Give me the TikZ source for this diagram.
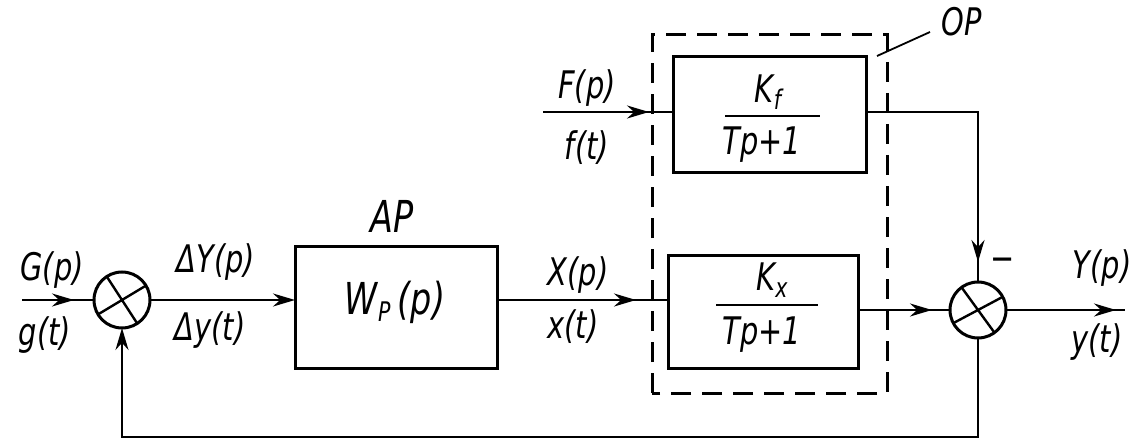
\documentclass[tikz,border=0pt]{standalone}
\usepackage{fontspec}
\setmainfont{DejaVu Sans}
\newfontfamily\hand[FakeStretch=0.76]{DejaVu Sans}
\usetikzlibrary{arrows.meta,calc}
\newcommand{\lowsub}[1]{\raisebox{-7pt}{\fontsize{27}{27}\selectfont #1}}
\begin{document}
\begin{tikzpicture}[x=1pt,y=-1pt,
  blk/.style={draw,line width=3pt,inner sep=0pt,outer sep=0pt},
  sumnode/.style={circle,draw,line width=3pt,minimum size=56pt,inner sep=0pt,outer sep=0pt},
  sig/.style={line width=2.3pt},
  arr/.style={sig,-{Stealth[length=22pt,width=13pt]}},
  lbl/.style={font=\hand\fontsize{38}{40}\selectfont\itshape,inner sep=0pt},
  big/.style={font=\hand\fontsize{44}{46}\selectfont\itshape,inner sep=0pt},
  frac/.style={line width=2.6pt},
  dashbox/.style={line width=3pt,dash pattern=on 20pt off 11pt}]
\useasboundingbox (0,0) rectangle (1141,441);
% blocks
\node[blk,minimum width=202pt,minimum height=122pt] (ap) at (396,307) {};
\node[blk,minimum width=190pt,minimum height=113pt] (kx) at (763,311.5) {};
\node[blk,minimum width=193pt,minimum height=116pt] (kf) at (770,115) {};
\node[sumnode] (s1) at (122,300) {};
\node[sumnode] (s2) at (978,310) {};
\draw[line width=2.4pt] (s1.123) -- (s1.303) (s1.211) -- (s1.31);
\draw[line width=2.4pt] (s2.126) -- (s2.306) (s2.208) -- (s2.28);
% dashed OP frame
\draw[dashbox] (652,393) -- (652,35) -- (887,35) -- (887,393) -- cycle;
% coordinates
\coordinate (gin) at (22,300);
\coordinate (ga) at (74,300);
\coordinate (xa) at (636,300);
\coordinate (fin) at (543,112);
\coordinate (fa) at (649,112);
\coordinate (kxa) at (932,310);
\coordinate (corner) at (978,112);
\coordinate (s2a) at (978,262);
\coordinate (yend) at (1125,310);
\coordinate (ya) at (1116,310);
\coordinate (fb2) at (978,437);
\coordinate (fb1) at (122,437);
\coordinate (opa) at (877,56);
\coordinate (opb) at (930,32);
% connectors
\draw[sig] (gin) -- (s1.west);
\draw[arr] (gin) -- (ga);
\draw[arr] (s1.east) -- (ap.west |- s1.east);
\draw[sig] (ap.east |- xa) -- (kx.west |- xa);
\draw[arr] (ap.east |- xa) -- (xa);
\draw[sig] (fin) -- (kf.west |- fin);
\draw[arr] (fin) -- (fa);
\draw[sig] (kf.east |- corner) -- (corner) -- (s2.north);
\draw[arr] (corner) -- (s2a);
\draw[sig] (kx.east |- s2.west) -- (s2.west);
\draw[arr] (kx.east |- s2.west) -- (kxa);
\draw[sig] (s2.east) -- (yend);
\draw[arr] (s2.east) -- (ya);
\draw[arr] (s2.south) -- (fb2) -- (fb1) -- (s1.south);
\draw[line width=1.8pt] (opa) -- (opb);
% labels
\node[lbl] (lG) at (52,270) {G(p)};
\node[lbl] (lg) at (45,335) {g(t)};
\node[lbl] (lDY) at (216,262) {ΔY(p)};
\node[lbl] (lDy) at (210,330) {Δy(t)};
\node[big] (lAP) at (392,216) {AP};
\node[big] (lW) at (395,302) {W\lowsub{P}\,(p)};
\node[lbl] (lX) at (578,275) {X(p)};
\node[lbl] (lx) at (573,327) {x(t)};
\node[lbl] (lF) at (587,88) {F(p)};
\node[lbl] (lf) at (587,148) {f(t)};
\node[lbl] (lOP) at (962,22) {OP};
\node[lbl] (lY) at (1102,268) {Y(p)};
\node[lbl] (ly) at (1097,342) {y(t)};
\node[lbl] (lminus) at (1003,265) {−};
% transfer functions
\node[lbl] (kfn) at (768,92) {K\lowsub{f}};
\draw[frac] (725,116) -- (820,116);
\node[lbl] (kfd) at (762,145) {Tp+1};
\node[lbl] (kxn) at (772,280) {K\lowsub{x}};
\draw[frac] (716,305) -- (818,305);
\node[lbl] (kxd) at (762,335) {Tp+1};
\end{tikzpicture}
\end{document}
